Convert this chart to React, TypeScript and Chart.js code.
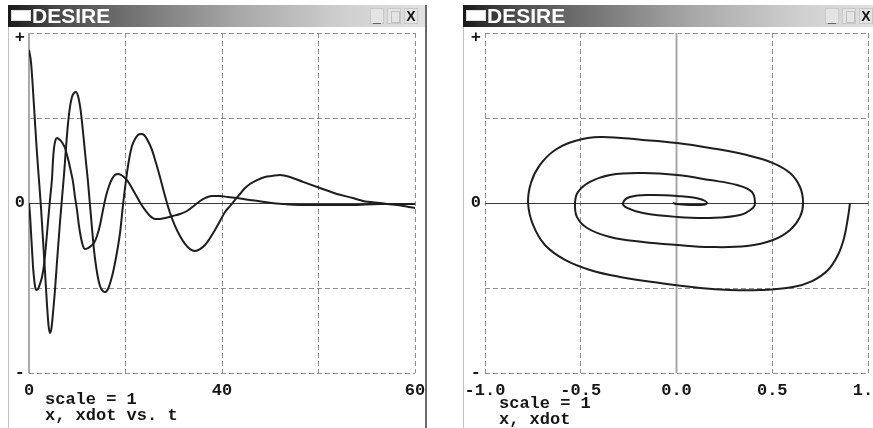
import React, { useEffect, useRef } from "react";
import { Chart, registerables } from "chart.js";

Chart.register(...registerables);

// ---- data ----
const timeOfX = [0, 0.31, 0.62, 0.93, 1.24, 1.55, 1.87, 2.18, 2.49, 2.8, 3.03, 3.26, 3.5, 3.73, 4.04, 4.35, 4.82, 5.13, 5.44, 5.75, 6.06, 6.37, 6.68, 7.0, 7.31, 7.62, 7.93, 8.24, 8.55, 8.86, 9.17, 9.48, 9.79, 10.1, 10.42, 10.73, 11.04, 11.35, 11.81, 12.28, 12.75, 13.21, 13.68, 14.15, 14.61, 15.08, 15.54, 16.01, 16.48, 16.94, 17.41, 17.88, 18.5, 19.12, 19.74, 20.36, 21.14, 21.92, 22.69, 23.47, 24.25, 25.03, 25.8, 26.58, 27.36, 28.14, 28.91, 29.69, 30.47, 31.24, 32.02, 32.8, 33.58, 34.35, 35.44, 36.68, 37.77, 39.02, 40.57, 42.59, 45.23, 47.88, 50.36, 51.92, 54.56, 57.2, 60];
const xValues = [0.9, 0.829, 0.665, 0.476, 0.294, 0.135, -0.029, -0.218, -0.406, -0.6, -0.718, -0.765, -0.735, -0.647, -0.512, -0.347, -0.112, 0.029, 0.165, 0.324, 0.465, 0.565, 0.624, 0.647, 0.653, 0.629, 0.571, 0.476, 0.359, 0.241, 0.124, -0.012, -0.147, -0.276, -0.371, -0.441, -0.488, -0.512, -0.524, -0.506, -0.453, -0.382, -0.288, -0.176, -0.012, 0.135, 0.253, 0.335, 0.376, 0.4, 0.406, 0.4, 0.365, 0.312, 0.235, 0.153, 0.041, -0.059, -0.135, -0.194, -0.241, -0.271, -0.282, -0.271, -0.247, -0.206, -0.159, -0.106, -0.053, -0.018, 0.018, 0.053, 0.088, 0.112, 0.135, 0.153, 0.159, 0.165, 0.153, 0.124, 0.088, 0.053, 0.029, 0.012, 0, -0.012, -0.029];

const timeOfXdot = [0, 0.16, 0.31, 0.47, 0.62, 0.78, 0.93, 1.17, 1.4, 1.71, 2.02, 2.33, 2.64, 2.95, 3.26, 3.58, 3.73, 3.89, 4.12, 4.35, 4.66, 4.97, 5.29, 5.6, 5.91, 6.22, 6.53, 6.84, 7.15, 7.46, 7.77, 8.08, 8.39, 8.71, 9.17, 9.64, 10.1, 10.57, 11.04, 11.5, 11.97, 12.44, 12.9, 13.37, 13.83, 14.3, 14.92, 15.54, 16.17, 16.79, 17.41, 18.03, 18.81, 19.59, 20.36, 21.14, 22.38, 23.47, 24.56, 25.8, 26.58, 27.36, 28.45, 29.69, 30.93, 32.33, 34.35, 36.68, 39.48, 42.12, 45.23, 50.0, 54.56, 60];
const xdotValues = [0, -0.071, -0.171, -0.276, -0.371, -0.441, -0.488, -0.512, -0.506, -0.476, -0.435, -0.365, -0.247, -0.112, 0.018, 0.147, 0.253, 0.324, 0.371, 0.382, 0.376, 0.365, 0.347, 0.324, 0.282, 0.235, 0.182, 0.124, 0.035, -0.041, -0.135, -0.206, -0.253, -0.271, -0.265, -0.253, -0.235, -0.194, -0.129, -0.041, 0.041, 0.1, 0.141, 0.165, 0.171, 0.165, 0.147, 0.118, 0.076, 0.035, -0.006, -0.041, -0.076, -0.094, -0.094, -0.088, -0.076, -0.065, -0.047, -0.012, 0.012, 0.029, 0.041, 0.041, 0.035, 0.029, 0.018, 0.006, -0.006, -0.012, -0.012, -0.012, -0.006, -0.006];

const phaseX = [0.906, 0.895, 0.875, 0.843, 0.791, 0.708, 0.608, 0.436, 0.279, 0.123, -0.086, -0.295, -0.452, -0.582, -0.687, -0.749, -0.775, -0.76, -0.713, -0.634, -0.53, -0.399, -0.175, 0.003, 0.175, 0.368, 0.504, 0.593, 0.645, 0.661, 0.645, 0.593, 0.504, 0.368, 0.175, 0.003, -0.175, -0.347, -0.467, -0.52, -0.53, -0.514, -0.452, -0.347, -0.175, 0.003, 0.175, 0.316, 0.394, 0.41, 0.399, 0.332, 0.175, 0.003, -0.175, -0.258, -0.279, -0.243, -0.138, 0.003, 0.123, 0.159, 0.123, 0.003, -0.018];
const phaseXdot = [0, -0.088, -0.206, -0.306, -0.394, -0.459, -0.494, -0.512, -0.512, -0.5, -0.471, -0.435, -0.394, -0.335, -0.247, -0.129, 0, 0.118, 0.224, 0.312, 0.365, 0.388, 0.371, 0.353, 0.324, 0.282, 0.235, 0.176, 0.094, 0, -0.082, -0.159, -0.218, -0.253, -0.259, -0.247, -0.229, -0.2, -0.147, -0.082, 0, 0.065, 0.124, 0.165, 0.176, 0.165, 0.135, 0.106, 0.065, 0, -0.029, -0.071, -0.088, -0.082, -0.059, -0.029, 0, 0.035, 0.047, 0.041, 0.024, 0, -0.012, -0.006, 0];

const timeTicks = [0, 15, 30, 45, 60];
const timeTickLabels = ["0", "", "40", "", "60"];
const phaseTicks = [-1, -0.5, 0, 0.5, 1];
const phaseTickLabels = ["-1.0", "-0.5", "0.0", "0.5", "1.0"];
const levelTicks = [-1, -0.5, 0, 0.5, 1];
const levelTickLabels = ["-", "", "0", "", "+"];

const titleText = "DESIRE";
const leftCaption = ["scale = 1", "x, xdot vs. t"];
const rightCaption = ["scale = 1", "x, xdot"];

// ---- styling ----
const MONO = '"Liberation Mono", "DejaVu Sans Mono", monospace';
const CURVE = "#1e1e1e";
const GRID = "#8e8e8e";

function labelFor(ticks: number[], labels: string[], lowerTop: boolean) {
  return (v: number | string) => {
    const n = Number(v);
    const i = ticks.findIndex((t) => Math.abs(t - n) < 1e-9);
    const s = i >= 0 ? labels[i] : "";
    // the top "+" mark sits a little below its tick in the original
    if (lowerTop && i === ticks.length - 1) return ["", s];
    return s;
  };
}

function axisLinesPlugin(vValue: number, vColor: string, vWidth: number) {
  return {
    id: "axisLines",
    beforeDatasetsDraw(chart: any) {
      const { ctx, chartArea, scales } = chart;
      const xz = scales.x.getPixelForValue(vValue);
      const yz = Math.round(scales.y.getPixelForValue(0)) + 0.5;
      ctx.save();
      ctx.setLineDash([]);
      ctx.strokeStyle = "#ffffff";
      ctx.lineWidth = 3;
      ctx.beginPath();
      ctx.moveTo(xz, chartArea.top);
      ctx.lineTo(xz, chartArea.bottom);
      ctx.stroke();
      ctx.strokeStyle = vColor;
      ctx.lineWidth = vWidth;
      ctx.beginPath();
      ctx.moveTo(xz, chartArea.top);
      ctx.lineTo(xz, chartArea.bottom);
      ctx.stroke();
      ctx.strokeStyle = "#3c3c3c";
      ctx.lineWidth = 1;
      ctx.beginPath();
      ctx.moveTo(chartArea.left, yz);
      ctx.lineTo(chartArea.right, yz);
      ctx.stroke();
      ctx.restore();
    },
  };
}

function scaleOptions(
  min: number,
  max: number,
  step: number,
  ticks: number[],
  labels: string[],
  fit: (s: any) => void,
  padding: number,
  vertical: boolean
) {
  return {
    type: "linear" as const,
    min,
    max,
    afterFit: fit,
    ticks: {
      stepSize: step,
      autoSkip: false,
      maxRotation: 0,
      padding,
      color: "#161616",
      font: vertical
        ? (ctx: any) => ({
            family: MONO,
            size: 17,
            weight: "bold",
            lineHeight: ctx && ctx.tick && Math.abs(ctx.tick.value - max) < 1e-9 ? 0.6 : 1.2,
          })
        : { family: MONO, size: 17, weight: "bold" as const },
      callback: labelFor(ticks, labels, vertical),
    },
    grid: { color: GRID, lineWidth: 1, drawTicks: false },
    border: { display: false, dash: [5, 3] },
  };
}

function buildTimeConfig(): any {
  return {
    type: "line",
    data: {
      datasets: [
        {
          label: "x",
          data: timeOfX.map((t, i) => ({ x: t, y: xValues[i] })),
        },
        {
          label: "xdot",
          data: timeOfXdot.map((t, i) => ({ x: t, y: xdotValues[i] })),
        },
      ].map((d) => ({
        ...d,
        borderColor: CURVE,
        borderWidth: 2,
        pointRadius: 0,
        fill: false,
        cubicInterpolationMode: "monotone",
      })),
    },
    options: {
      responsive: false,
      animation: false,
      devicePixelRatio: 1,
      parsing: false,
      layout: { padding: { top: 26, right: 23, left: 0, bottom: 0 } },
      plugins: { legend: { display: false }, tooltip: { enabled: false } },
      scales: {
        x: scaleOptions(0, 60, 15, timeTicks, timeTickLabels, (s: any) => {
          s.height = 55;
        }, 8, false),
        y: scaleOptions(-1, 1, 0.5, levelTicks, levelTickLabels, (s: any) => {
          s.width = 21;
        }, 4, true),
      },
    },
    plugins: [axisLinesPlugin(0, "#a8a8a8", 2)],
  };
}

function buildPhaseConfig(): any {
  return {
    type: "line",
    data: {
      datasets: [
        {
          label: "xdot vs x",
          data: phaseX.map((x, i) => ({ x, y: phaseXdot[i] })),
          borderColor: CURVE,
          borderWidth: 2,
          pointRadius: 0,
          fill: false,
          tension: 0.4,
        },
      ],
    },
    options: {
      responsive: false,
      animation: false,
      devicePixelRatio: 1,
      parsing: false,
      layout: { padding: { top: 26, right: 55, left: 0, bottom: 0 } },
      plugins: { legend: { display: false }, tooltip: { enabled: false } },
      scales: {
        x: scaleOptions(-1, 1, 0.5, phaseTicks, phaseTickLabels, (s: any) => {
          s.height = 55;
        }, 8, false),
        y: scaleOptions(-1, 1, 0.5, levelTicks, levelTickLabels, (s: any) => {
          s.width = 32;
        }, 4, true),
      },
    },
    plugins: [axisLinesPlugin(0, "#a8a8a8", 2)],
  };
}

function ChartCanvas(props: {
  build: () => any;
  left: number;
  top: number;
  width: number;
  height: number;
}) {
  const ref = useRef<HTMLCanvasElement | null>(null);
  useEffect(() => {
    const chart = new Chart(ref.current as HTMLCanvasElement, props.build());
    return () => chart.destroy();
  }, []);
  return (
    <canvas
      ref={ref}
      width={props.width}
      height={props.height}
      style={{
        position: "absolute",
        left: props.left,
        top: props.top,
        width: props.width,
        height: props.height,
        zIndex: 1,
      }}
    />
  );
}

function TitleBar(props: { left: number; width: number }) {
  const btn: React.CSSProperties = {
    position: "absolute",
    top: 3,
    width: 14,
    height: 16,
    background: "#e4e4e4",
    border: "1px solid #c8c8c8",
    boxSizing: "border-box",
    fontFamily: '"Liberation Sans", Arial, sans-serif',
    fontWeight: "bold",
    color: "#111",
    textAlign: "center",
  };
  return (
    <div
      style={{
        position: "absolute",
        left: props.left,
        top: 5,
        width: props.width,
        height: 22,
        zIndex: 3,
        background:
          "linear-gradient(to right, #1a1a1a 0%, #4a4a4a 12%, #7e7e7e 35%, #a8a8a8 55%, #cfcfcf 80%, #e2e2e2 100%)",
      }}
    >
      <div
        style={{
          position: "absolute",
          left: 3,
          top: 5,
          width: 20,
          height: 11,
          background: "#ffffff",
          border: "1px solid #dddddd",
          boxSizing: "border-box",
        }}
      />
      <div
        style={{
          position: "absolute",
          left: 24,
          top: -1,
          fontFamily: '"Liberation Sans", Arial, sans-serif',
          fontWeight: "bold",
          fontSize: 21,
          lineHeight: "24px",
          color: "#ffffff",
          letterSpacing: 0,
        }}
      >
        {titleText}
      </div>
      <div style={{ ...btn, left: 362, fontSize: 14, lineHeight: "16px" }}>_</div>
      <div style={{ ...btn, left: 379 }}>
        <div
          style={{
            position: "absolute",
            left: 3,
            top: 2,
            width: 7,
            height: 10,
            border: "1px solid #c0c0c0",
          }}
        />
      </div>
      <div style={{ ...btn, left: 396, fontSize: 14, lineHeight: "15px" }}>X</div>
    </div>
  );
}

function Caption(props: { left: number; top: number; lines: string[] }) {
  return (
    <div
      style={{
        position: "absolute",
        left: props.left,
        top: props.top,
        zIndex: 2,
        fontFamily: MONO,
        fontWeight: "bold",
        fontSize: 17,
        lineHeight: "16px",
        color: "#161616",
        whiteSpace: "pre",
      }}
    >
      {props.lines.map((l, i) => (
        <div key={i}>{l}</div>
      ))}
    </div>
  );
}

export default function App() {
  return (
    <div
      style={{
        position: "fixed",
        left: 0,
        top: 0,
        width: 873,
        height: 428,
        overflow: "hidden",
        background: "#ffffff",
      }}
    >
      {/* left window frame */}
      <div style={{ position: "absolute", left: 8, top: 27, width: 1, height: 401, background: "#c4c4c4" }} />
      <div style={{ position: "absolute", left: 425, top: 5, width: 2, height: 423, background: "#6a6a6a", zIndex: 4 }} />
      <div style={{ position: "absolute", left: 427, top: 0, width: 30, height: 428, background: "#ffffff", zIndex: 2 }} />
      <TitleBar left={8} width={419} />
      <ChartCanvas build={buildTimeConfig} left={8} top={7} width={430} height={421} />
      <Caption left={45} top={392} lines={leftCaption} />

      {/* right window frame */}
      <div style={{ position: "absolute", left: 463, top: 27, width: 1, height: 401, background: "#c4c4c4", zIndex: 2 }} />
      <TitleBar left={463} width={419} />
      <ChartCanvas build={buildPhaseConfig} left={453} top={7} width={470} height={421} />
      <Caption left={499} top={396} lines={rightCaption} />
    </div>
  );
}
